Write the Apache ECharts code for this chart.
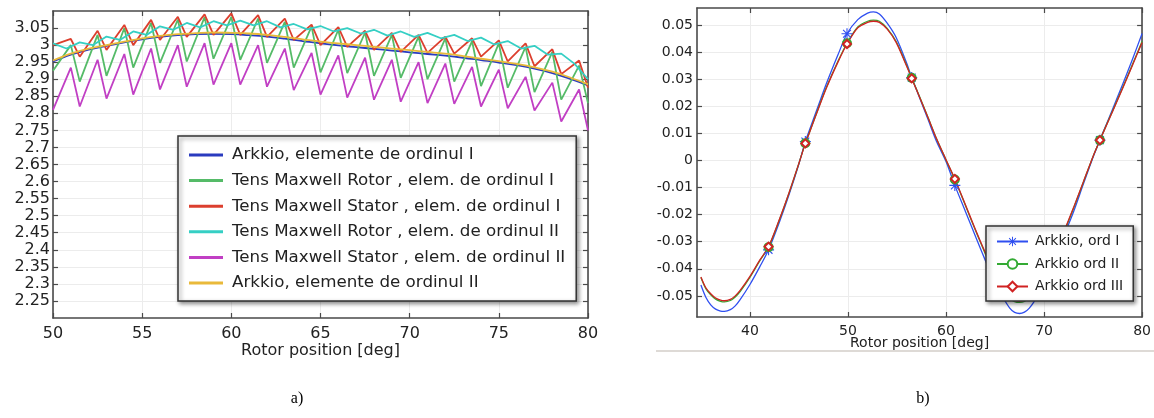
<!DOCTYPE html>
<html><head><meta charset="utf-8">
<script src="https://cdn.jsdelivr.net/npm/echarts@6/dist/echarts.min.js"></script>
<style>html,body{margin:0;padding:0;background:#fff}#c{width:1154px;height:418px}</style>
</head><body><div id="c"></div>
<script>
// ---------- Panel a) ----------
const leftXTicks = [50, 55, 60, 65, 70, 75, 80];
const leftYTicks = [2.25, 2.3, 2.35, 2.4, 2.45, 2.5, 2.55, 2.6, 2.65, 2.7, 2.75, 2.8, 2.85, 2.9, 2.95, 3, 3.05];
const leftNames = ['Arkkio, elemente de ordinul I', 'Tens Maxwell Rotor , elem. de ordinul I',
  'Tens Maxwell Stator , elem. de ordinul I', 'Tens Maxwell Rotor , elem. de ordinul II',
  'Tens Maxwell Stator , elem. de ordinul II', 'Arkkio, elemente de ordinul II'];

const sawX = [50, 51.0, 51.5, 52.5, 53.0, 54.0, 54.5, 55.5, 56.0, 57.0, 57.5, 58.5, 59.0, 60.0, 60.5,
  61.5, 62.0, 63.0, 63.5, 64.5, 65.0, 66.0, 66.5, 67.5, 68.0, 69.0, 69.5, 70.5, 71.0, 72.0, 72.5,
  73.5, 74.0, 75.0, 75.5, 76.5, 77.0, 78.0, 78.5, 79.5, 80.0];
const statorI = [3.0, 3.018, 2.966, 3.042, 2.986, 3.059, 3.0, 3.074, 3.015, 3.083, 3.024, 3.09, 3.03,
  3.093, 3.03, 3.088, 3.024, 3.078, 3.015, 3.06, 3.0, 3.053, 2.995, 3.042, 2.986, 3.036, 2.98,
  3.03, 2.977, 3.025, 2.975, 3.02, 2.966, 3.014, 2.952, 3.005, 2.938, 2.988, 2.915, 2.955, 2.875];
const rotorI = [2.925, 3.0, 2.893, 3.03, 2.91, 3.05, 2.934, 3.065, 2.948, 3.075, 2.952, 3.082, 2.96,
  3.083, 2.957, 3.078, 2.948, 3.068, 2.934, 3.055, 2.92, 3.045, 2.918, 3.037, 2.91, 3.03, 2.904,
  3.025, 2.9, 3.02, 2.893, 3.012, 2.88, 3.005, 2.875, 2.995, 2.862, 2.98, 2.84, 2.94, 2.83];
const statorII = [2.81, 2.934, 2.82, 2.957, 2.843, 2.974, 2.855, 2.99, 2.87, 3.0, 2.878, 3.006, 2.884,
  3.006, 2.884, 3.0, 2.878, 2.99, 2.868, 2.977, 2.855, 2.97, 2.846, 2.963, 2.84, 2.957, 2.834,
  2.95, 2.83, 2.946, 2.828, 2.936, 2.82, 2.928, 2.815, 2.907, 2.808, 2.89, 2.776, 2.87, 2.75];
const rotorIIX = [50, 50.75, 51.5, 52.25, 53, 53.75, 54.5, 55.25, 56, 56.75, 57.5, 58.25, 59, 59.75,
  60.5, 61.25, 62, 62.75, 63.5, 64.25, 65, 65.75, 66.5, 67.25, 68, 68.75, 69.5, 70.25, 71, 71.75,
  72.5, 73.25, 74, 74.75, 75.5, 76.25, 77, 77.75, 78.5, 79.25, 80];
const rotorII = [3.005, 2.99, 3.008, 3.0, 3.025, 3.015, 3.04, 3.03, 3.055, 3.045, 3.065, 3.052, 3.07,
  3.058, 3.072, 3.058, 3.07, 3.052, 3.062, 3.046, 3.056, 3.04, 3.05, 3.034, 3.045, 3.028, 3.04,
  3.024, 3.036, 3.02, 3.03, 3.012, 3.022, 3.002, 3.012, 2.99, 2.998, 2.972, 2.975, 2.945, 2.9];
const arkkioX = [50, 51, 52, 53, 54, 55, 56, 57, 58, 59, 60, 61, 62, 63, 64, 65, 66, 67, 68, 69, 70,
  71, 72, 73, 74, 75, 76, 77, 78, 79, 80];
const arkkioI = [2.952, 2.972, 2.987, 2.998, 3.008, 3.017, 3.024, 3.029, 3.032, 3.033, 3.032, 3.029,
  3.025, 3.019, 3.012, 3.005, 2.999, 2.994, 2.989, 2.984, 2.979, 2.974, 2.969, 2.963, 2.956, 2.949,
  2.941, 2.931, 2.918, 2.901, 2.882];
const arkkioII = [2.955, 2.975, 2.99, 3.0, 3.01, 3.02, 3.027, 3.032, 3.035, 3.037, 3.036, 3.034,
  3.03, 3.024, 3.017, 3.01, 3.005, 3.0, 2.995, 2.99, 2.985, 2.98, 2.975, 2.968, 2.96, 2.953, 2.945,
  2.935, 2.922, 2.905, 2.885];

// ---------- Panel b) ----------
const rightXTicks = [40, 50, 60, 70, 80];
const rightYTicks = [-0.05, -0.04, -0.03, -0.02, -0.01, 0, 0.01, 0.02, 0.03, 0.04, 0.05];
const rightNames = ['Arkkio, ord I', 'Arkkio ord II', 'Arkkio ord III'];
const posB = [35.0, 35.5, 36, 36.5, 37, 37.4, 38, 38.5, 39, 40, 41, 41.9, 43, 44, 45, 45.65, 46, 47,
  47.8, 49, 49.9, 51, 52, 52.6, 53.2, 54, 54.9, 56, 56.5, 57, 58.2, 59, 60, 60.9, 62, 63, 64, 65,
  65.8, 66.5, 67, 67.5, 68, 68.5, 69.1, 70, 71, 72, 73, 74, 75, 75.7, 76, 77, 78, 79, 80];
const ordI = [-0.046, -0.0505, -0.0533, -0.0549, -0.0556, -0.0557, -0.0551, -0.0537, -0.0514, -0.0458,
  -0.0393, -0.033, -0.0228, -0.0125, -0.0012, 0.007, 0.0105, 0.0205, 0.0284, 0.0392, 0.0468, 0.052,
  0.0544, 0.0549, 0.0541, 0.0507, 0.0455, 0.0358, 0.0306, 0.026, 0.0148, 0.0073, -0.0004, -0.0092,
  -0.019, -0.028, -0.0368, -0.045, -0.0505, -0.0545, -0.0561, -0.0565, -0.056, -0.0545, -0.0515,
  -0.0455, -0.037, -0.028, -0.019, -0.0088, 0.0012, 0.0075, 0.0102, 0.019, 0.028, 0.0372, 0.0469];
const ordII = [-0.0432, -0.0473, -0.0496, -0.0512, -0.052, -0.0522, -0.0517, -0.0504, -0.0484, -0.0432,
  -0.0371, -0.032, -0.022, -0.0119, -0.001, 0.0064, 0.0097, 0.0195, 0.027, 0.0368, 0.0433, 0.0493,
  0.0514, 0.0518, 0.0514, 0.0488, 0.044, 0.035, 0.0305, 0.0262, 0.0156, 0.0083, 0.0002, -0.007,
  -0.0168, -0.0258, -0.0344, -0.0424, -0.0474, -0.0509, -0.0521, -0.0524, -0.052, -0.0507, -0.0482,
  -0.0428, -0.0353, -0.0268, -0.0177, -0.0081, 0.0015, 0.0075, 0.0101, 0.0184, 0.0268, 0.0353, 0.044];
const ordIII = [-0.043, -0.047, -0.0492, -0.0508, -0.0516, -0.0518, -0.0513, -0.05, -0.048, -0.0428,
  -0.0368, -0.0318, -0.0218, -0.0118, -0.001, 0.0063, 0.0096, 0.0193, 0.0268, 0.0365, 0.043, 0.049,
  0.051, 0.0514, 0.051, 0.0485, 0.0437, 0.0347, 0.0303, 0.026, 0.0155, 0.0083, 0.0003, -0.0068,
  -0.0165, -0.0255, -0.034, -0.042, -0.047, -0.0505, -0.0517, -0.052, -0.0516, -0.0503, -0.0478,
  -0.0425, -0.035, -0.0265, -0.0175, -0.008, 0.0015, 0.0075, 0.01, 0.0182, 0.0265, 0.035, 0.0436];
const markerX = [41.9, 45.65, 49.9, 56.5, 60.9, 75.7];

// ---------- build ----------
const zip = (xs, ys) => xs.map((x, i) => [x, ys[i]]);
const withMarkers = (xs, ys) => xs.map((x, i) => markerX.indexOf(x) >= 0 ? { value: [x, ys[i]] } : { value: [x, ys[i]], symbol: 'none' });
const FONT = 'DejaVu Sans';
const starPath = 'path://M9,0H11V20H9Z M0,9H20V11H0Z M2.2,3.6L3.6,2.2L17.8,16.4L16.4,17.8Z M16.4,2.2L17.8,3.6L3.6,17.8L2.2,16.4Z';

const leftColors = ['#2a3bbf', '#55bb68', '#dc3f2e', '#35cfc4', '#c13fc4', '#e9b93a'];
const rightColors = ['#2f4ff0', '#33aa33', '#d02222'];

const axC = '#4a4a4a', gridC = '#ececec';
function xAx(gi, min, max, ticks, pos, labels, name, nameGap, fs, margin) {
  return { type: 'value', gridIndex: gi, min, max, position: pos,
    name: name || '', nameLocation: 'middle', nameGap: nameGap || 0, nameMoveOverlap: false,
    nameTextStyle: { fontFamily: FONT, fontSize: fs, color: '#222', verticalAlign: 'top' },
    axisLine: { show: true, onZero: false, lineStyle: { color: axC, width: 1.6 } },
    axisTick: { show: true, inside: true, length: 5, customValues: ticks, lineStyle: { color: axC, width: 1.2 } },
    axisLabel: { show: labels, customValues: ticks, fontFamily: FONT, fontSize: fs, color: '#222', margin: margin,
      formatter: v => String(v) },
    splitLine: { show: labels, lineStyle: { color: gridC, width: 1 } } };
}
function yAx(gi, min, max, ticks, pos, labels, fs, margin) {
  return { type: 'value', gridIndex: gi, min, max, position: pos,
    axisLine: { show: true, onZero: false, lineStyle: { color: axC, width: 1.6 } },
    axisTick: { show: true, inside: true, length: 5, customValues: ticks, lineStyle: { color: axC, width: 1.2 } },
    axisLabel: { show: labels, customValues: ticks, fontFamily: FONT, fontSize: fs, color: '#222', margin: margin,
      formatter: v => String(v) },
    splitLine: { show: labels, lineStyle: { color: gridC, width: 1 } } };
}

const leftSeriesData = [
  zip(arkkioX, arkkioI), zip(sawX, rotorI), zip(sawX, statorI),
  zip(rotorIIX, rotorII), zip(sawX, statorII), zip(arkkioX, arkkioII)];
const leftSmooth = [true, false, false, false, false, true];

const series = [];
leftNames.forEach((n, i) => series.push({
  type: 'line', name: n, xAxisIndex: 0, yAxisIndex: 0, data: leftSeriesData[i],
  showSymbol: false, symbol: 'none', smooth: leftSmooth[i] ? 0.4 : false,
  lineStyle: { color: leftColors[i], width: 1.8 }, itemStyle: { color: leftColors[i] }
}));
const rightVals = [ordI, ordII, ordIII];
const rightSyms = [starPath, 'emptyCircle', 'emptyDiamond'];
const rightSymSize = [11, 8, 8];
rightNames.forEach((n, i) => series.push({
  type: 'line', name: n, xAxisIndex: 2, yAxisIndex: 2, data: withMarkers(posB, rightVals[i]),
  showSymbol: true, symbol: rightSyms[i], symbolSize: rightSymSize[i], smooth: 0.3,
  lineStyle: { color: rightColors[i], width: 1.3 },
  itemStyle: i === 0 ? { color: rightColors[i] } : { color: rightColors[i], borderColor: rightColors[i], borderWidth: 1.5 }
}));

const legendBase = {
  orient: 'vertical', backgroundColor: '#fff', borderColor: '#333', borderWidth: 1.5,
  shadowBlur: 4, shadowColor: 'rgba(0,0,0,0.45)', shadowOffsetX: 2, shadowOffsetY: 2,
  selectedMode: false
};

const option = {
  animation: false,
  backgroundColor: '#fff',
  grid: [
    { left: 53, top: 11, width: 535, height: 307 },
    { left: 697, top: 8, width: 450, height: 309 }
  ],
  xAxis: [
    xAx(0, 50, 80, leftXTicks, 'bottom', true, 'Rotor position [deg]', 25, 16, 8),
    xAx(0, 50, 80, leftXTicks, 'top', false, '', 0, 16, 8),
    xAx(1, 34.6, 80, rightXTicks, 'bottom', true, 'Rotor position [deg]', 19, 14, 7),
    xAx(1, 34.6, 80, rightXTicks, 'top', false, '', 0, 14, 7)
  ],
  yAxis: [
    yAx(0, 2.2, 3.1, leftYTicks, 'left', true, 16, 3),
    yAx(0, 2.2, 3.1, leftYTicks, 'right', false, 16, 3),
    yAx(1, -0.0578, 0.0563, rightYTicks, 'left', true, 14, 4),
    yAx(1, -0.0578, 0.0563, rightYTicks, 'right', false, 14, 4)
  ],
  legend: [
    Object.assign({}, legendBase, {
      data: leftNames, left: 178, top: 136, padding: [9, 11, 8, 11],
      icon: 'rect', itemWidth: 34, itemHeight: 3, itemGap: 5.6,
      textStyle: { fontFamily: FONT, fontSize: 16.7, color: '#222', lineHeight: 20, padding: [0, 0, 0, 4] }
    }),
    Object.assign({}, legendBase, {
      data: rightNames, left: 986, top: 226, padding: [7, 10, 6, 10],
      itemWidth: 31, itemHeight: 12, itemGap: 5.5,
      textStyle: { fontFamily: FONT, fontSize: 14, color: '#222', lineHeight: 17, padding: [0, 0, 0, 2] }
    })
  ],
  graphic: [
    { type: 'rect', shape: { x: 656, y: 352, width: 498, height: 14 }, style: { fill: '#fff' }, z: 100 },
    { type: 'line', shape: { x1: 656, y1: 351, x2: 1154, y2: 351 }, style: { stroke: '#dedad6', lineWidth: 2 }, z: 101 },
    { type: 'text', x: 297, y: 399, style: { text: 'a)', font: '16px "Liberation Serif"', fill: '#000', align: 'center', verticalAlign: 'middle' }, z: 101 },
    { type: 'text', x: 923, y: 399, style: { text: 'b)', font: '16px "Liberation Serif"', fill: '#000', align: 'center', verticalAlign: 'middle' }, z: 101 }
  ],
  series
};
const chart = echarts.init(document.getElementById('c'), null, { renderer: 'canvas' });
chart.setOption(option);
</script>
</body></html>
